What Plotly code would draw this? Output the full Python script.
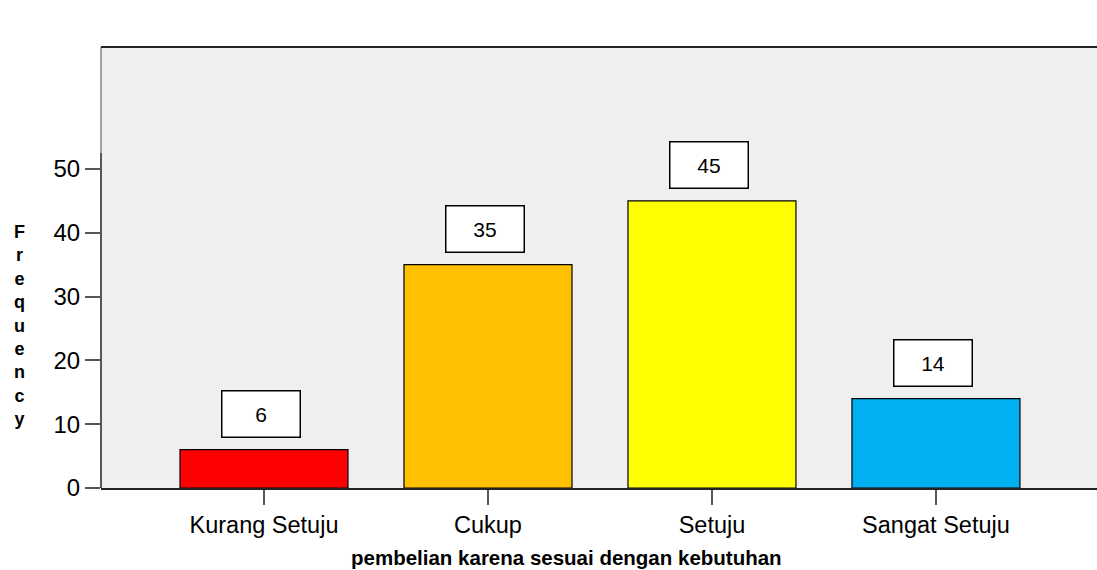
import plotly.graph_objects as go

categories = ["Kurang Setuju", "Cukup", "Setuju", "Sangat Setuju"]
frequencies = [6, 35, 45, 14]
bar_colors = ["#ff0000", "#ffc000", "#ffff00", "#00b0f0"]
y_ticks = [0, 10, 20, 30, 40, 50]
x_title = "pembelian karena sesuai dengan kebutuhan"
y_title = "Frequency"

W, H = 1097, 570
L, R, T, B = 101, 0, 47, 82
PW, PH = W - L - R, H - T - B
FONT = "Liberation Sans, Arial, sans-serif"

fig = go.Figure()
fig.add_trace(go.Bar(
    x=categories, y=frequencies, width=0.75,
    marker=dict(color=bar_colors, line=dict(color="#000000", width=1.2)),
    hoverinfo="x+y",
))

for c, v in zip(categories, frequencies):
    fig.add_annotation(
        x=c, y=v, xref="x", yref="y", text=str(v), showarrow=False,
        yanchor="bottom", yshift=12, xshift=-3, width=77, height=45,
        bgcolor="#ffffff", bordercolor="#000000", borderwidth=1.5, borderpad=0,
        font=dict(family=FONT, size=21, color="#000000"),
    )

# y axis title as stacked letters
fig.add_annotation(
    xref="paper", yref="paper", x=(19 - L) / PW, y=(H - B - 325) / PH,
    text="<br>".join(list(y_title)), showarrow=False, xanchor="center", yanchor="middle",
    font=dict(family=FONT, size=18, color="#000000", weight="bold"),
)

# x axis title
fig.add_annotation(
    xref="paper", yref="paper", x=(566.5 - L) / PW, y=-(557 - (H - B)) / PH,
    text=x_title, showarrow=False, xanchor="center", yanchor="middle",
    font=dict(family=FONT, size=20.5, color="#000000", weight="bold"),
)

# axis lines
fig.add_shape(type="line", xref="paper", yref="y", x0=0, x1=0, y0=0, y1=52.5,
              line=dict(color="#222222", width=1.5))
fig.add_shape(type="line", xref="paper", yref="paper", x0=0, x1=0, y0=(52.5 / 69.1), y1=1,
              line=dict(color="#888888", width=1.5))
fig.add_shape(type="line", xref="paper", yref="paper", x0=0, x1=1, y0=1, y1=1,
              line=dict(color="#222222", width=2))

fig.update_layout(
    width=W, height=H,
    margin=dict(l=L, r=R, t=T, b=B, pad=0),
    paper_bgcolor="#ffffff", plot_bgcolor="#efefef",
    showlegend=False, bargap=0.25,
    font=dict(family=FONT, color="#000000"),
    xaxis=dict(
        range=[-0.7277, 3.719], showgrid=False, zeroline=False,
        showline=True, linecolor="#222222", linewidth=1.5,
        ticks="outside", ticklen=15, tickcolor="#555555", tickwidth=1.5,
        tickfont=dict(family=FONT, size=23.5, color="#000000"),
    ),
    yaxis=dict(
        range=[0, 69.1], showgrid=False, zeroline=False, showline=False,
        tickvals=y_ticks, ticks="outside", ticklen=15, tickcolor="#555555", tickwidth=1.5,
        tickfont=dict(family=FONT, size=24, color="#000000"),
    ),
)

fig.write_html("out.html")
